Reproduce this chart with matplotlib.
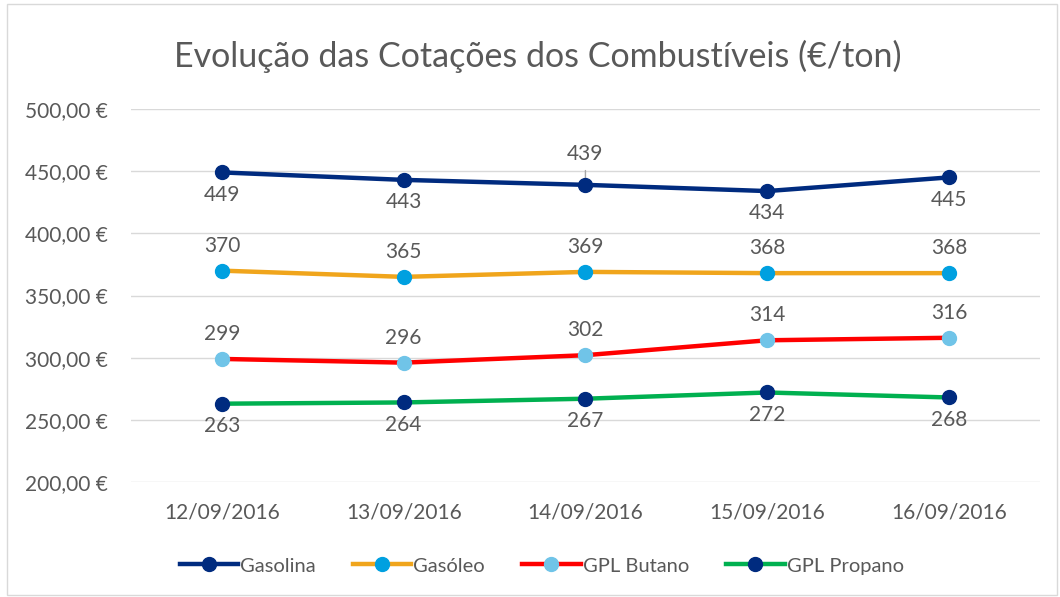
import matplotlib
matplotlib.use("Agg")
import matplotlib.pyplot as plt
from matplotlib.patches import Rectangle

plt.rcParams['font.family'] = ['Lato', 'DejaVu Sans']

dates = ["12/09/2016", "13/09/2016", "14/09/2016", "15/09/2016", "16/09/2016"]
gasolina = [449, 443, 439, 434, 445]
gasoleo = [370, 365, 369, 368, 368]
butano = [299, 296, 302, 314, 316]
propano = [263, 264, 267, 272, 268]
yticks = [200, 250, 300, 350, 400, 450, 500]

TXT = "#595959"
fig = plt.figure(figsize=(10.6, 5.97), dpi=100)
fig.patches.append(Rectangle((0.007, 0.003), 0.99, 0.99, transform=fig.transFigure,
                             fill=False, edgecolor="#d9d9d9", linewidth=1))
ax = fig.add_axes([0.1236, 0.1926, 0.8574, 0.6248])
x = list(range(len(dates)))

series = [
    ("Gasolina", gasolina, "#002B7F", "#002B7F", ["below", "below", "above", "below", "below"]),
    ("Gasóleo", gasoleo, "#F0A51C", "#00A0E0", ["above"] * 5),
    ("GPL Butano", butano, "#FF0000", "#70C4E8", ["above"] * 5),
    ("GPL Propano", propano, "#00B050", "#002B7F", ["below"] * 5),
]
for name, vals, lc, mc, pos in series:
    ax.plot(x, vals, color=lc, linewidth=3.2, marker="o", markersize=10,
            markerfacecolor=mc, markeredgecolor=mc, label=name, zorder=3)
    for xi, v, p in zip(x, vals, pos):
        if p == "above":
            off = 18 if name != "Gasolina" else 22
            ax.annotate(str(v), (xi, v), xytext=(0, off), textcoords="offset points",
                        ha="center", va="center", fontsize=15, color=TXT)
            if name == "Gasolina":
                ax.annotate("", (xi, v), xytext=(xi, v + 11.5),
                            arrowprops=dict(arrowstyle="-", color="#a6a6a6", lw=1,
                                            shrinkA=0, shrinkB=0), zorder=2)
        else:
            ax.annotate(str(v), (xi, v), xytext=(0, -16), textcoords="offset points",
                        ha="center", va="center", fontsize=15, color=TXT)

ax.set_xlim(-0.5, len(dates) - 0.5)
ax.set_ylim(200, 500)
ax.set_yticks(yticks)
ax.set_yticklabels([f"{t},00 €" for t in yticks])
ax.set_xticks(x)
ax.set_xticklabels(dates)
ax.tick_params(axis="both", length=0, labelsize=15, labelcolor=TXT)
ax.tick_params(axis="y", pad=17)
ax.tick_params(axis="x", pad=15)
ax.grid(axis="y", color="#d9d9d9", linewidth=1)
ax.set_axisbelow(True)
for s in ax.spines.values():
    s.set_visible(False)

fig.text(0.507, 0.905, "Evolução das Cotações dos Combustíveis (€/ton)", ha="center", va="center",
         fontsize=24.5, color=TXT)
fig.legend(loc="center", bbox_to_anchor=(0.511, 0.052), ncol=4, frameon=False, fontsize=14.5,
           labelcolor=TXT, handlelength=2.9, columnspacing=1.85, handletextpad=0.1)
fig.savefig("out.png", dpi=100)
